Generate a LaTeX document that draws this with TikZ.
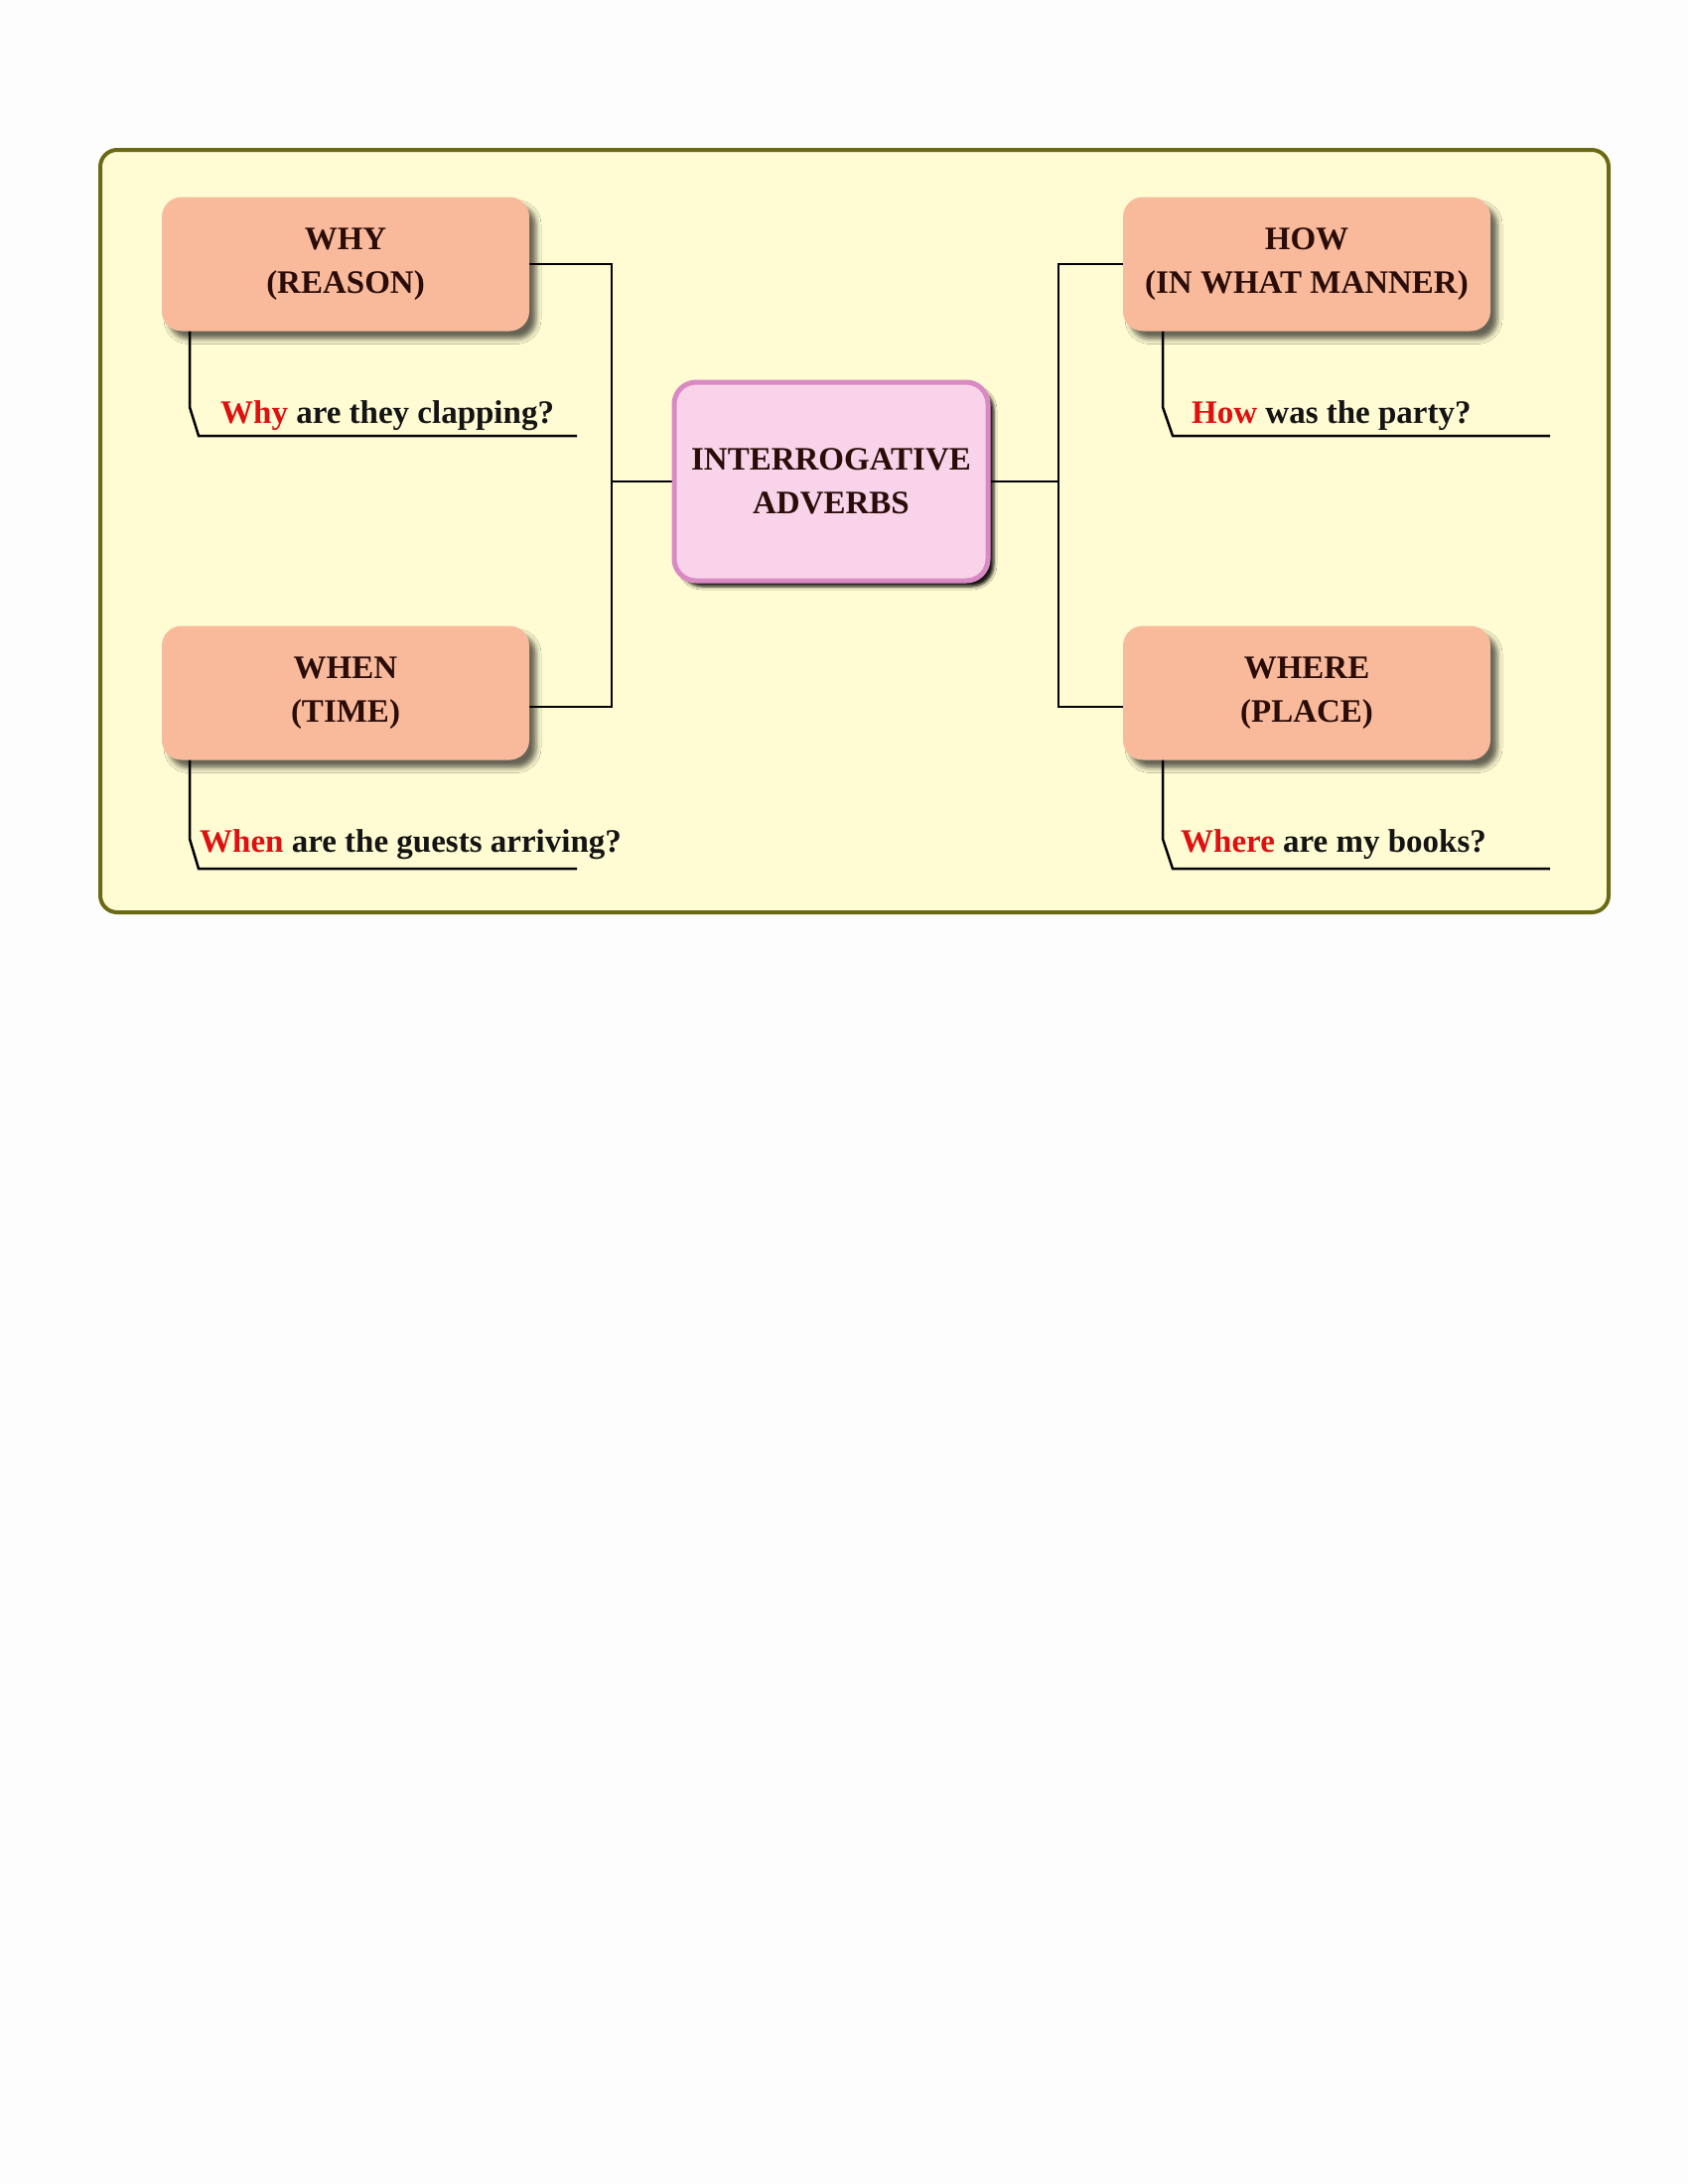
\documentclass[tikz,border=0pt]{standalone}
\usepackage{fontspec}
\setmainfont{Liberation Serif}
\usetikzlibrary{shadows.blur,backgrounds}
\definecolor{pagebg}{HTML}{FDFDFD}
\definecolor{framefill}{HTML}{FFFCD3}
\definecolor{frameline}{HTML}{6B6A14}
\definecolor{salmon}{HTML}{F9BA9C}
\definecolor{pinkfill}{HTML}{F9D3E9}
\definecolor{pinkedge}{HTML}{D98AC4}
\definecolor{labeltext}{HTML}{2A0C08}
\definecolor{qtext}{HTML}{141414}
\definecolor{qred}{HTML}{E01010}
\begin{document}
\begin{tikzpicture}[x=1pt,y=-1pt,
  labelfont/.style={font=\bfseries\fontsize{33}{44}\selectfont},
  catbox/.style={labelfont, rounded corners=20pt, fill=salmon, minimum width=370pt,
    minimum height=135pt, align=center, text=labeltext,
    blur shadow={shadow xshift=7pt, shadow yshift=-8pt, shadow blur radius=5pt, shadow opacity=60}},
  mainbox/.style={labelfont, rounded corners=22pt, fill=pinkfill, draw=pinkedge, line width=5pt,
    minimum width=316pt, minimum height=200pt, align=center, text=labeltext,
    blur shadow={shadow xshift=6pt, shadow yshift=-6pt, shadow blur radius=3pt, shadow opacity=90}},
  qline/.style={labelfont, anchor=base west, inner sep=0pt, text=qtext},
  conn/.style={line width=2.5pt, black},
]
\useasboundingbox (0,0) rectangle (1700,2200);

\node[catbox] (why) at (348,266) {WHY\\(REASON)};
\node[catbox] (how) at (1316,266) {HOW\\(IN WHAT MANNER)};
\node[catbox] (when) at (348,698) {WHEN\\(TIME)};
\node[catbox] (where) at (1316,698) {WHERE\\(PLACE)};
\node[mainbox] (center) at (837,485) {INTERROGATIVE\\ADVERBS};

\coordinate (tl) at (616,485);
\coordinate (tr) at (1066,485);

\node[qline] (qwhy) at (222,426) {\textcolor{qred}{Why} are they clapping?};
\node[qline] (qhow) at (1200,426) {\textcolor{qred}{How} was the party?};
\node[qline] (qwhen) at (201,858) {\textcolor{qred}{When} are the guests arriving?};
\node[qline] (qwhere) at (1189,858) {\textcolor{qred}{Where} are my books?};

\coordinate (a1) at (191,330); \coordinate (a2) at (191,410); \coordinate (a3) at (200,439); \coordinate (a4) at (581,439);
\coordinate (b1) at (1171,330); \coordinate (b2) at (1171,410); \coordinate (b3) at (1181,439); \coordinate (b4) at (1561,439);
\coordinate (c1) at (191,762); \coordinate (c2) at (191,845); \coordinate (c3) at (200,875); \coordinate (c4) at (581,875);
\coordinate (d1) at (1171,762); \coordinate (d2) at (1171,845); \coordinate (d3) at (1181,875); \coordinate (d4) at (1561,875);

\begin{pgfonlayer}{background}
\fill[pagebg] (0,0) rectangle (1700,2200);
\node[draw=frameline, fill=framefill, line width=4pt, rounded corners=17pt,
  minimum width=1519pt, minimum height=768pt, inner sep=0pt] (frame) at (860.5,535) {};
\draw[conn] (why.east) -| (tl) |- ([yshift=-14pt]when.east);
\draw[conn] (tl) -- (center.west);
\draw[conn] (how.west) -| (tr) |- ([yshift=-14pt]where.west);
\draw[conn] (tr) -- (center.east);
\draw[conn] (a1) -- (a2) -- (a3) -- (a4);
\draw[conn] (b1) -- (b2) -- (b3) -- (b4);
\draw[conn] (c1) -- (c2) -- (c3) -- (c4);
\draw[conn] (d1) -- (d2) -- (d3) -- (d4);
\end{pgfonlayer}
\end{tikzpicture}
\end{document}
